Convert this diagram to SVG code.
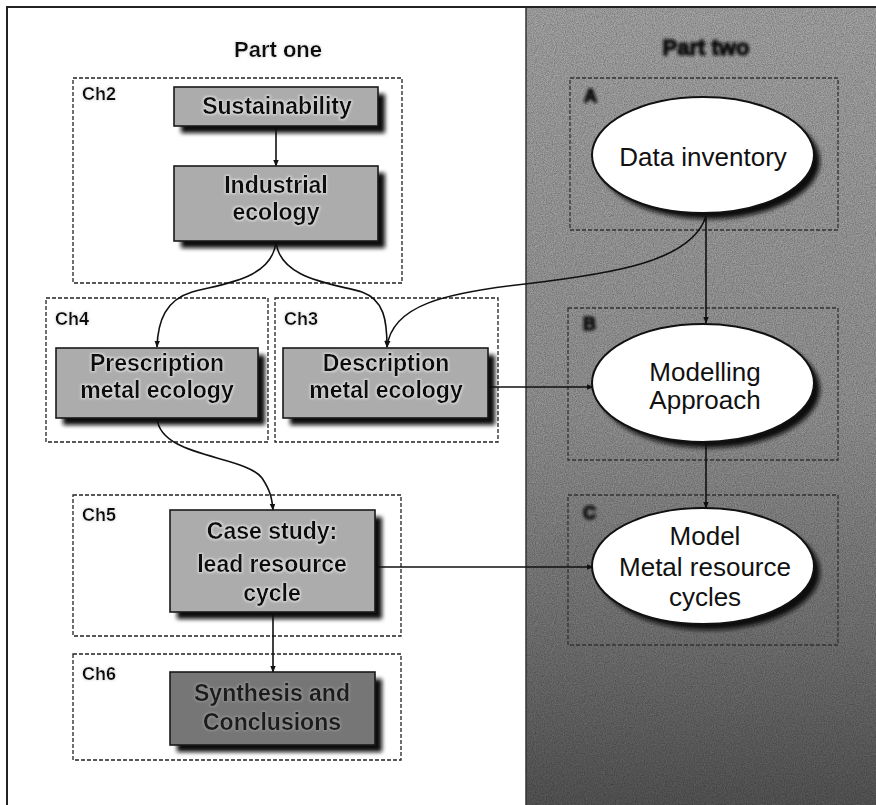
<svg xmlns="http://www.w3.org/2000/svg" width="876" height="805" viewBox="0 0 876 805">
  <defs>
    <linearGradient id="panelGrad" x1="0" y1="0" x2="0" y2="1">
      <stop offset="0" stop-color="#a6a6a6"/>
      <stop offset="0.5" stop-color="#959595"/>
      <stop offset="0.78" stop-color="#757575"/>
      <stop offset="1" stop-color="#555555"/>
    </linearGradient>
    <filter id="grain" x="0" y="0" width="100%" height="100%">
      <feTurbulence type="fractalNoise" baseFrequency="0.9" numOctaves="2" seed="4" result="n"/>
      <feColorMatrix in="n" type="matrix" values="0 0 0 0 0  0 0 0 0 0  0 0 0 0 0  0 0 0 0.5 -0.15"/>
      <feComposite in2="SourceGraphic" operator="in"/>
    </filter>
    <filter id="shadow" x="-20%" y="-20%" width="140%" height="140%">
      <feGaussianBlur stdDeviation="2.2"/>
    </filter>
    <filter id="halo" x="-10%" y="-30%" width="120%" height="160%">
      <feMorphology in="SourceAlpha" operator="dilate" radius="1.4" result="d"/>
      <feGaussianBlur in="d" stdDeviation="1" result="b"/>
      <feFlood flood-color="#e6e6e6" flood-opacity="0.8"/>
      <feComposite in2="b" operator="in" result="h"/>
      <feMerge><feMergeNode in="h"/><feMergeNode in="SourceGraphic"/></feMerge>
    </filter>
    <filter id="haloDim" x="-10%" y="-30%" width="120%" height="160%">
      <feMorphology in="SourceAlpha" operator="dilate" radius="1" result="d"/>
      <feGaussianBlur in="d" stdDeviation="1.2" result="b"/>
      <feFlood flood-color="#b0b0b0" flood-opacity="0.45"/>
      <feComposite in2="b" operator="in" result="h"/>
      <feMerge><feMergeNode in="h"/><feMergeNode in="SourceGraphic"/></feMerge>
    </filter>
    <filter id="soft" x="-30%" y="-50%" width="160%" height="200%">
      <feGaussianBlur stdDeviation="1.5"/>
    </filter>
    <marker id="arr" viewBox="0 0 10 10" refX="9" refY="5" markerWidth="7" markerHeight="7" orient="auto" markerUnits="userSpaceOnUse">
      <path d="M0,1 L10,5 L0,9 z" fill="#111"/>
    </marker>
    <style>
      .frame { fill: none; stroke: #222; stroke-width: 2; }
      .group { fill: none; stroke: #222; stroke-width: 1.3; stroke-dasharray: 4 2; }
      .groupR { fill: none; stroke: #333; stroke-width: 1.3; stroke-dasharray: 4 2; }
      .box { fill: #acacac; stroke: #1a1a1a; stroke-width: 1.6; }
      .boxDark { fill: #767676; stroke: #1a1a1a; stroke-width: 1.6; }
      .sh { fill: #111; filter: url(#shadow); }
      .oval { fill: #ffffff; stroke: #111; stroke-width: 2; }
      .bt { font-family: "Liberation Sans", Arial, sans-serif; font-weight: bold; font-size: 23px; fill: #111; text-anchor: middle; }
      .btDark { font-family: "Liberation Sans", Arial, sans-serif; font-weight: bold; font-size: 23px; fill: #1c1c1c; text-anchor: middle; }
      .ot { font-family: "Liberation Sans", Arial, sans-serif; font-size: 26px; fill: #111; text-anchor: middle; }
      .ch { font-family: "Liberation Sans", Arial, sans-serif; font-weight: bold; font-size: 18px; fill: #111; }
      .title { font-family: "Liberation Sans", Arial, sans-serif; font-weight: bold; font-size: 22px; fill: #111; text-anchor: middle; }
      .blurred { stroke: #111; stroke-width: 1.4; }
      .conn { fill: none; stroke: #111; stroke-width: 1.6; }
    </style>
  </defs>

  <!-- page background and right-hand panel -->
  <rect x="0" y="0" width="876" height="805" fill="#ffffff"/>
  <rect id="panel" x="526" y="7" width="350" height="798" fill="url(#panelGrad)"/>
  <rect x="526" y="7" width="350" height="798" fill="#000" filter="url(#grain)"/>
  <line x1="526" y1="7" x2="526" y2="805" stroke="#333" stroke-width="1.5"/>
  <path class="frame" d="M7,805 V7 H876"/>

  <!-- section titles -->
  <text class="title" x="278" y="57" filter="url(#halo)">Part one</text>
  <text class="title blurred" x="706" y="55" filter="url(#soft)">Part two</text>

  <!-- chapter frames -->
  <g id="ch2">
    <rect class="group" x="73" y="78" width="329" height="205"/>
    <text class="ch" x="82" y="100" filter="url(#halo)">Ch2</text>
  </g>
  <g id="ch4">
    <rect class="group" x="46" y="298" width="222" height="144"/>
    <text class="ch" x="55" y="325" filter="url(#halo)">Ch4</text>
  </g>
  <g id="ch3">
    <rect class="group" x="275" y="298" width="223" height="144"/>
    <text class="ch" x="284" y="325" filter="url(#halo)">Ch3</text>
  </g>
  <g id="ch5">
    <rect class="group" x="73" y="495" width="328" height="141"/>
    <text class="ch" x="82" y="521" filter="url(#halo)">Ch5</text>
  </g>
  <g id="ch6">
    <rect class="group" x="73" y="654" width="328" height="106"/>
    <text class="ch" x="82" y="680" filter="url(#halo)">Ch6</text>
  </g>
  <g id="partA">
    <rect class="groupR" x="570" y="78" width="268" height="152"/>
    <text class="ch blurred" x="584" y="102" filter="url(#soft)">A</text>
  </g>
  <g id="partB">
    <rect class="groupR" x="568" y="308" width="270" height="152"/>
    <text class="ch blurred" x="583" y="330" filter="url(#soft)">B</text>
  </g>
  <g id="partC">
    <rect class="groupR" x="568" y="495" width="270" height="150"/>
    <text class="ch blurred" x="583" y="519" filter="url(#soft)">C</text>
  </g>

  <!-- connectors -->
  <g id="connectors">
    <line class="conn" x1="276" y1="127" x2="276" y2="166" marker-end="url(#arr)"/>
    <path class="conn" d="M276,241 C273,280 220,284 192,292 C166,300 158,320 157,347" marker-end="url(#arr)"/>
    <path class="conn" d="M276,241 C279,280 336,284 362,292 C384,300 387,320 387,347" marker-end="url(#arr)"/>
    <path class="conn" d="M706,216 C692,262 610,274 525,284 C445,293 392,305 387,347" marker-end="url(#arr)"/>
    <line class="conn" x1="706" y1="216" x2="706" y2="323" marker-end="url(#arr)"/>
    <line class="conn" x1="490" y1="387" x2="593" y2="387" marker-end="url(#arr)"/>
    <path class="conn" d="M157,418 C160,458 245,455 262,478 C270,490 272,498 273,510" marker-end="url(#arr)"/>
    <line class="conn" x1="706" y1="443" x2="706" y2="508" marker-end="url(#arr)"/>
    <line class="conn" x1="376" y1="567" x2="593" y2="567" marker-end="url(#arr)"/>
    <line class="conn" x1="273" y1="612" x2="273" y2="672" marker-end="url(#arr)"/>
  </g>

  <!-- part one boxes -->
  <g id="sustainability">
    <rect class="sh" x="181" y="94" width="204" height="39"/>
    <rect class="box" x="174" y="87" width="204" height="39"/>
    <text class="bt" x="277" y="114" filter="url(#halo)">Sustainability</text>
  </g>
  <g id="industrial-ecology">
    <rect class="sh" x="181" y="173" width="204" height="75"/>
    <rect class="box" x="174" y="166" width="204" height="75"/>
    <text class="bt" x="276" y="193" filter="url(#halo)">Industrial</text>
    <text class="bt" x="276" y="220" filter="url(#halo)">ecology</text>
  </g>
  <g id="prescription">
    <rect class="sh" x="63" y="355" width="202" height="70"/>
    <rect class="box" x="56" y="348" width="202" height="70"/>
    <text class="bt" x="157" y="371" filter="url(#halo)">Prescription</text>
    <text class="bt" x="157" y="398" filter="url(#halo)">metal ecology</text>
  </g>
  <g id="description">
    <rect class="sh" x="290" y="355" width="205" height="70"/>
    <rect class="box" x="283" y="348" width="205" height="70"/>
    <text class="bt" x="386" y="371" filter="url(#halo)">Description</text>
    <text class="bt" x="386" y="398" filter="url(#halo)">metal ecology</text>
  </g>
  <g id="case-study">
    <rect class="sh" x="177" y="517" width="205" height="102"/>
    <rect class="box" x="170" y="510" width="205" height="102"/>
    <text class="bt" x="272" y="539" filter="url(#halo)">Case study:</text>
    <text class="bt" x="272" y="572" filter="url(#halo)">lead resource</text>
    <text class="bt" x="272" y="601" filter="url(#halo)">cycle</text>
  </g>
  <g id="synthesis">
    <rect class="sh" x="177" y="679" width="205" height="73"/>
    <rect class="boxDark" x="170" y="672" width="205" height="73"/>
    <text class="btDark" x="272" y="701" filter="url(#haloDim)">Synthesis and</text>
    <text class="btDark" x="272" y="730" filter="url(#haloDim)">Conclusions</text>
  </g>

  <!-- part two ellipses -->
  <g id="data-inventory">
    <ellipse class="sh" cx="709" cy="161" rx="111" ry="58"/>
    <ellipse class="oval" cx="703" cy="155" rx="111" ry="58"/>
    <text class="ot" x="703" y="166">Data inventory</text>
  </g>
  <g id="modelling-approach">
    <ellipse class="sh" cx="709" cy="389" rx="111" ry="59"/>
    <ellipse class="oval" cx="703" cy="383" rx="111" ry="59"/>
    <text class="ot" x="705" y="381">Modelling</text>
    <text class="ot" x="705" y="409">Approach</text>
  </g>
  <g id="model-cycles">
    <ellipse class="sh" cx="709" cy="572" rx="111" ry="58"/>
    <ellipse class="oval" cx="703" cy="566" rx="111" ry="58"/>
    <text class="ot" x="705" y="545">Model</text>
    <text class="ot" x="705" y="576">Metal resource</text>
    <text class="ot" x="705" y="606">cycles</text>
  </g>
</svg>
